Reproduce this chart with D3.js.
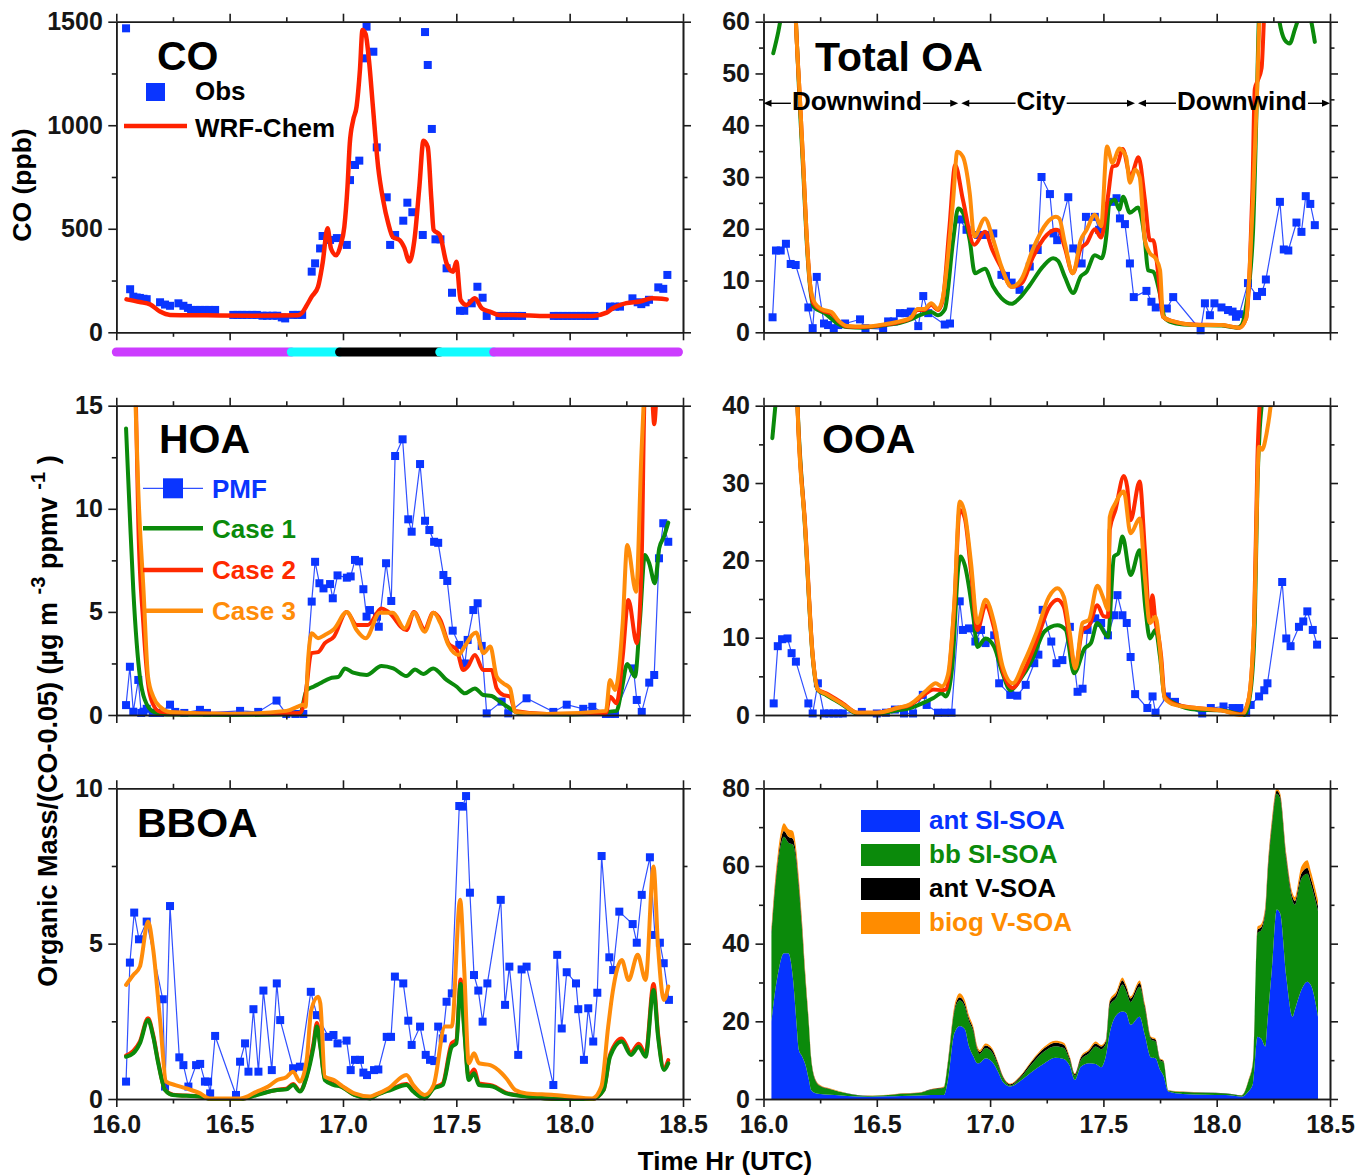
<!DOCTYPE html>
<html>
<head>
<meta charset="utf-8">
<title>CO and organic aerosol along the flight track</title>
<script src="https://cdn.jsdelivr.net/npm/d3@7/dist/d3.min.js"></script>
<style>
  html, body { margin: 0; padding: 0; background: #fff; }
  svg text { font-family: "Liberation Sans", Arial, Helvetica, sans-serif; font-weight: bold; }
</style>
</head>
<body>
<svg id="chart" width="1357" height="1176"></svg>
<script>
// ---------------- data ----------------
const timeTicks = [16.0, 16.5, 17.0, 17.5, 18.0, 18.5];
const timeMinorTicks = [16.25, 16.75, 17.25, 17.75, 18.25];

const coTicks = [0, 500, 1000, 1500], coMinor = [250, 750, 1250];
const totTicks = [0, 10, 20, 30, 40, 50, 60], totMinor = [5, 15, 25, 35, 45, 55];
const hoaTicks = [0, 5, 10, 15], hoaMinor = [2.5, 7.5, 12.5];
const ooaTicks = [0, 10, 20, 30, 40], ooaMinor = [5, 15, 25, 35];
const bboaTicks = [0, 5, 10], bboaMinor = [2.5, 7.5];
const soaTicks = [0, 20, 40, 60, 80], soaMinor = [10, 30, 50, 70];

// flight legs shown under the CO panel
const legEdges = [16.0, 16.772, 16.985, 17.427, 17.665, 18.48];
const legTypes = ['downwind', 'transition', 'city', 'transition', 'downwind'];

// regions marked in the Total OA panel
const regionEdges = [16.0, 16.866, 17.646, 18.5];
const regionNames = ['Downwind', 'City', 'Downwind'];

// CO (ppb): aircraft observations and WRF-Chem
const coObs = [[16.043,1468],[16.061,208],[16.075,172],[16.09,168],[16.104,166],[16.12,162],[16.134,160],[16.193,145],[16.215,134],[16.237,128],[16.274,140],[16.296,128],[16.316,118],[16.33,108],[16.35,108],[16.37,108],[16.39,108],[16.41,108],[16.436,108],[16.516,84],[16.535,84],[16.555,84],[16.575,84],[16.6,84],[16.62,84],[16.645,80],[16.665,80],[16.69,80],[16.71,80],[16.73,72],[16.745,67],[16.78,84],[16.8,84],[16.82,84],[16.862,293],[16.877,333],[16.899,405],[16.91,465],[16.943,446],[16.973,455],[17.017,422],[17.031,735],[17.053,808],[17.072,829],[17.097,1323],[17.104,1476],[17.134,1355],[17.149,893],[17.193,652],[17.208,422],[17.23,470],[17.266,539],[17.284,626],[17.306,580],[17.352,470],[17.362,1450],[17.374,1291],[17.392,982],[17.408,449],[17.43,449],[17.457,309],[17.481,191],[17.516,104],[17.535,104],[17.568,140],[17.593,220],[17.616,167],[17.634,79],[17.69,79],[17.71,79],[17.73,79],[17.75,79],[17.77,79],[17.79,79],[17.93,79],[17.95,79],[17.97,79],[17.99,79],[18.01,79],[18.03,79],[18.05,79],[18.07,79],[18.09,79],[18.11,79],[18.178,124],[18.2,124],[18.222,124],[18.277,164],[18.3,145],[18.316,136],[18.335,145],[18.35,157],[18.391,217],[18.413,210],[18.431,277]];
const coModel = [[16.045,159],[16.104,146],[16.149,135],[16.193,100],[16.237,84],[16.4,82],[16.6,80],[16.8,82],[16.818,92],[16.84,130],[16.862,172],[16.89,220],[16.91,333],[16.932,502],[16.947,405],[16.97,372],[16.99,422],[17.006,510],[17.02,703],[17.03,912],[17.045,1025],[17.06,1090],[17.075,1270],[17.086,1460],[17.1,1440],[17.115,1310],[17.132,1090],[17.155,800],[17.177,640],[17.2,525],[17.22,460],[17.25,445],[17.27,410],[17.293,342],[17.315,445],[17.337,703],[17.355,925],[17.374,895],[17.39,640],[17.4,495],[17.427,470],[17.457,333],[17.486,293],[17.5,341],[17.519,156],[17.545,132],[17.582,164],[17.612,116],[17.648,100],[17.69,84],[17.75,84],[17.9,79],[18.1,79],[18.163,95],[18.19,116],[18.25,141],[18.31,149],[18.362,164],[18.428,159]];

// Total OA
const totPMF = [[16.04,2.9],[16.055,15.8],[16.076,15.8],[16.099,17.1],[16.12,13.2],[16.142,13.0],[16.198,4.8],[16.217,0.8],[16.235,10.7],[16.267,1.7],[16.285,1.4],[16.31,0.8],[16.33,1.4],[16.36,1.7],[16.426,2.5],[16.45,0.8],[16.528,0.6],[16.55,2.1],[16.575,2.1],[16.602,3.7],[16.625,3.7],[16.65,4.0],[16.683,1.2],[16.705,7.0],[16.727,3.7],[16.8,1.5],[16.823,1.7],[16.867,21.8],[16.896,19.8],[16.947,18.8],[16.981,18.8],[17.014,19.1],[17.05,11.1],[17.07,10.9],[17.095,9.6],[17.13,8.2],[17.175,12.7],[17.19,16.2],[17.21,15.9],[17.227,30.0],[17.264,26.7],[17.28,19.1],[17.296,17.8],[17.345,26.1],[17.367,16.2],[17.404,13.3],[17.423,22.3],[17.462,22.3],[17.481,19.8],[17.536,25.2],[17.558,25.9],[17.573,22.0],[17.595,20.9],[17.617,13.3],[17.634,6.8],[17.69,8.0],[17.712,5.9],[17.731,4.8],[17.78,4.6],[17.808,6.8],[17.929,0.4],[17.948,5.6],[17.97,3.3],[17.99,5.6],[18.021,4.8],[18.05,4.3],[18.07,4.0],[18.085,3.0],[18.1,3.5],[18.138,9.5],[18.178,7.0],[18.2,7.8],[18.217,10.2],[18.279,25.2],[18.296,16.0],[18.316,15.8],[18.352,21.2],[18.374,19.4],[18.393,26.3],[18.413,24.8],[18.433,20.7]];
const totCase1 = [[16.043,53.9],[16.065,58],[16.09,64],[16.12,70],[16.14,62],[16.161,43],[16.176,30.5],[16.19,18],[16.205,9],[16.222,4.9],[16.27,3.7],[16.32,1.9],[16.368,1.0],[16.44,0.9],[16.54,1.4],[16.6,1.8],[16.65,2.5],[16.69,3.3],[16.74,3.9],[16.77,3.3],[16.8,4.4],[16.837,17.8],[16.859,23.9],[16.88,23.1],[16.91,17.8],[16.933,11.4],[16.977,12.3],[17.014,8.8],[17.05,6.6],[17.095,5.5],[17.13,6.6],[17.175,9.1],[17.233,12.7],[17.278,14.3],[17.3,13.8],[17.33,10.7],[17.367,7.6],[17.4,10.8],[17.426,11.7],[17.462,14.9],[17.492,14.3],[17.514,19.1],[17.525,24.6],[17.55,25.6],[17.57,23.7],[17.587,26.2],[17.617,23.1],[17.653,24.1],[17.683,17.8],[17.697,12.0],[17.72,11.7],[17.749,7.5],[17.771,2.7],[17.82,1.7],[17.9,1.4],[18.02,1.3],[18.09,0.9],[18.11,1.4],[18.13,5.1],[18.16,19.1],[18.177,44.9],[18.19,65],[18.24,75],[18.275,60.5],[18.3,56.5],[18.322,55.8],[18.345,58.5],[18.36,60.5],[18.39,63],[18.415,60.5],[18.433,56.1]];
const totCase2 = [[16.043,85],[16.1,95],[16.13,75],[16.145,58],[16.161,44.9],[16.176,32],[16.19,19.1],[16.205,9.5],[16.22,5.6],[16.26,4.2],[16.3,3.6],[16.33,2.2],[16.37,1.1],[16.44,1.0],[16.54,1.5],[16.6,2.0],[16.65,2.7],[16.68,4.3],[16.71,4.3],[16.74,5.3],[16.77,4.3],[16.79,6.0],[16.82,20],[16.846,32.3],[16.88,25.6],[16.93,16.9],[16.977,19.4],[17.01,15.9],[17.05,12.4],[17.095,8.8],[17.14,9.5],[17.19,14.6],[17.25,18.8],[17.29,19.8],[17.305,19.6],[17.33,16.3],[17.365,11.4],[17.4,16.2],[17.426,17.2],[17.462,19.9],[17.49,18.3],[17.52,26.2],[17.54,32.0],[17.56,32.3],[17.585,35.4],[17.62,30.1],[17.655,33.8],[17.683,25.6],[17.705,17.8],[17.72,17.8],[17.74,12.0],[17.763,3.0],[17.8,2.2],[17.9,1.5],[18.02,1.4],[18.1,0.9],[18.13,2.7],[18.146,12.7],[18.158,28],[18.168,47],[18.182,48.7],[18.198,51],[18.21,62],[18.3,110],[18.435,100]];
const totCase3 = [[16.043,90],[16.1,100],[16.13,76],[16.145,58],[16.161,44.9],[16.176,32],[16.19,19.1],[16.205,9.5],[16.227,5.6],[16.26,4.4],[16.3,3.9],[16.33,2.3],[16.37,1.2],[16.44,1.1],[16.54,1.6],[16.6,2.1],[16.65,2.8],[16.68,4.5],[16.71,4.5],[16.74,5.6],[16.77,4.5],[16.79,6.4],[16.837,25.6],[16.855,34.9],[16.88,33.9],[16.91,26.9],[16.93,18.5],[16.977,22.0],[17.014,17.8],[17.05,12.7],[17.095,8.8],[17.14,10.4],[17.19,16.2],[17.25,21.1],[17.29,22.3],[17.305,22],[17.33,17.2],[17.365,11.4],[17.4,17.8],[17.426,19.8],[17.462,22.7],[17.49,20.5],[17.516,35.9],[17.54,32.7],[17.57,35.5],[17.6,33.9],[17.617,28.9],[17.64,31.4],[17.66,30],[17.683,17.8],[17.705,15.3],[17.73,14.3],[17.75,12.0],[17.763,3.0],[17.8,2.2],[17.92,1.4],[18.02,1.4],[18.1,0.9],[18.13,2.7],[18.146,12.7],[18.16,25.6],[18.177,44.9],[18.19,62],[18.3,110],[18.435,100]];

// HOA
const hoaPMF = [[16.043,0.48],[16.06,2.34],[16.075,0.16],[16.097,1.7],[16.11,0.1],[16.12,0.16],[16.134,0.3],[16.16,0.1],[16.193,0.1],[16.237,0.5],[16.26,0.15],[16.3,0.1],[16.369,0.25],[16.4,0.1],[16.546,0.2],[16.626,0.15],[16.707,0.7],[16.75,0.05],[16.79,0.05],[16.825,0.05],[16.862,5.5],[16.877,7.43],[16.896,6.39],[16.914,6.14],[16.943,6.35],[16.955,5.66],[16.976,6.77],[17.017,6.66],[17.034,6.72],[17.053,7.52],[17.071,7.45],[17.09,6.1],[17.104,4.77],[17.119,5.09],[17.15,4.77],[17.158,4.28],[17.19,7.36],[17.213,5.53],[17.23,12.56],[17.263,13.37],[17.288,9.49],[17.303,8.89],[17.34,12.17],[17.362,9.42],[17.381,8.97],[17.402,8.4],[17.42,8.35],[17.443,6.79],[17.46,6.5],[17.484,4.09],[17.513,3.4],[17.538,2.5],[17.55,3.64],[17.575,5.09],[17.594,5.42],[17.612,3.35],[17.634,0.08],[17.7,0.65],[17.729,0.08],[17.81,0.81],[17.928,0.15],[17.987,0.5],[18.06,0.3],[18.1,0.4],[18.16,0.05],[18.18,0.05],[18.2,0.05],[18.281,2.26],[18.296,0.73],[18.318,0.15],[18.351,1.57],[18.373,1.94],[18.394,7.6],[18.413,9.3],[18.435,8.4]];
const hoaCase1 = [[16.043,13.9],[16.06,9.6],[16.075,6.06],[16.09,3.48],[16.104,1.86],[16.126,0.73],[16.163,0.16],[16.22,0.02],[16.5,0.0],[16.81,0.05],[16.84,1.21],[16.87,1.37],[16.899,1.54],[16.943,1.78],[16.98,1.85],[17.009,2.26],[17.045,2.05],[17.104,1.94],[17.17,2.38],[17.222,2.26],[17.28,1.89],[17.318,2.21],[17.354,1.99],[17.398,2.26],[17.457,1.7],[17.502,1.37],[17.538,1.05],[17.582,1.29],[17.619,0.97],[17.656,0.92],[17.692,0.65],[17.737,0.32],[17.78,0.08],[18.0,0.02],[18.207,0.2],[18.229,1.2],[18.254,2.47],[18.288,1.86],[18.31,4.6],[18.332,7.76],[18.351,7.36],[18.376,6.39],[18.395,8.08],[18.416,8.65],[18.435,9.33]];
const hoaCase2 = [[16.05,24],[16.085,16],[16.097,9.3],[16.119,4.45],[16.14,1.54],[16.16,0.57],[16.193,0.16],[16.3,0.1],[16.6,0.05],[16.81,0.1],[16.835,1.0],[16.86,3.0],[16.89,3.05],[16.92,3.48],[16.96,3.8],[17.016,5.0],[17.06,4.37],[17.11,4.37],[17.17,5.17],[17.2,5.0],[17.28,4.12],[17.313,5.0],[17.36,4.16],[17.398,4.96],[17.43,4.6],[17.465,3.48],[17.502,3.15],[17.531,2.18],[17.55,2.34],[17.582,2.91],[17.619,2.18],[17.656,2.18],[17.678,1.29],[17.707,0.97],[17.737,0.89],[17.76,0.2],[17.9,0.05],[18.16,0.1],[18.178,0.89],[18.207,0.57],[18.234,2.83],[18.259,5.58],[18.296,3.48],[18.318,7.68],[18.332,16],[18.355,17],[18.373,14.1],[18.39,17],[18.435,22]];
const hoaCase3 = [[16.05,26],[16.085,15],[16.097,10.9],[16.12,6.06],[16.14,1.86],[16.163,0.89],[16.193,0.4],[16.237,0.15],[16.5,0.05],[16.75,0.2],[16.8,0.4],[16.826,0.5],[16.835,0.4],[16.845,2.5],[16.862,3.96],[16.89,3.72],[16.92,3.88],[16.96,4.16],[17.017,5.0],[17.06,4.12],[17.1,3.72],[17.163,4.96],[17.22,4.96],[17.272,4.2],[17.313,4.96],[17.36,4.04],[17.4,4.96],[17.43,4.45],[17.465,3.4],[17.51,2.91],[17.535,3.3],[17.587,4.0],[17.62,3.0],[17.65,3.32],[17.678,1.86],[17.707,1.54],[17.737,1.29],[17.76,0.15],[17.9,0.05],[18.16,0.2],[18.178,1.7],[18.2,1.21],[18.234,4.45],[18.254,8.24],[18.293,5.98],[18.316,12.5],[18.33,16],[18.38,22],[18.435,24]];

// OOA
const ooaPMF = [[16.045,1.5],[16.063,8.9],[16.082,9.8],[16.106,9.9],[16.124,8.0],[16.143,6.9],[16.198,1.5],[16.217,0.2],[16.24,4.1],[16.267,0.2],[16.29,0.2],[16.31,0.2],[16.33,0.2],[16.35,0.2],[16.434,0.4],[16.5,0.2],[16.54,0.3],[16.58,0.7],[16.62,0.2],[16.66,0.2],[16.703,2.6],[16.72,1.3],[16.77,0.3],[16.8,0.3],[16.83,0.3],[16.866,14.7],[16.88,11.0],[16.907,11.2],[16.935,9.5],[16.96,11.0],[16.98,9.3],[17.018,10.3],[17.04,4.1],[17.089,2.6],[17.12,2.5],[17.157,3.9],[17.195,6.7],[17.213,7.8],[17.232,13.6],[17.27,9.5],[17.293,6.7],[17.319,7.1],[17.352,11.4],[17.386,3.0],[17.408,3.4],[17.43,11.0],[17.464,12.5],[17.49,11.9],[17.52,10.3],[17.547,12.9],[17.562,15.5],[17.584,12.9],[17.603,11.9],[17.62,7.5],[17.64,2.7],[17.694,0.9],[17.717,2.4],[17.73,0.3],[17.78,2.4],[17.816,1.7],[17.936,0.2],[17.974,0.9],[18.03,1.1],[18.07,0.9],[18.1,0.9],[18.13,0.3],[18.15,1.3],[18.187,2.4],[18.21,3.2],[18.224,4.1],[18.289,17.2],[18.307,9.9],[18.326,8.9],[18.363,11.4],[18.382,12.1],[18.4,13.4],[18.424,11.0],[18.443,9.1]];
const ooaCase1 = [[16.039,35.8],[16.054,40.5],[16.1,55],[16.14,48],[16.15,40],[16.184,23.9],[16.217,7.5],[16.24,3.2],[16.276,2.6],[16.35,1.3],[16.415,0.2],[16.5,0.2],[16.59,0.6],[16.647,0.9],[16.7,1.5],[16.75,2.2],[16.786,2.8],[16.805,2.4],[16.833,6.3],[16.86,19.2],[16.87,20.5],[16.888,19.4],[16.926,12.7],[16.944,8.8],[16.98,9.9],[17.018,8.8],[17.055,5.4],[17.09,3.2],[17.13,4.5],[17.185,7.1],[17.24,10.8],[17.297,11.6],[17.334,11.0],[17.37,5.4],[17.417,8.6],[17.445,9.3],[17.473,11.9],[17.52,10.1],[17.547,20.5],[17.566,20.9],[17.584,23.1],[17.62,18.1],[17.66,21.3],[17.686,13.6],[17.705,9.9],[17.73,11.0],[17.75,7.5],[17.77,2.4],[17.816,1.5],[17.908,0.7],[18.02,0.6],[18.09,0.2],[18.122,0.0],[18.15,3.2],[18.168,11.9],[18.18,30],[18.19,37],[18.2,40.5],[18.3,65],[18.443,55]];
const ooaCase2 = [[16.043,60],[16.1,70],[16.14,50],[16.15,40],[16.184,24.5],[16.217,7.8],[16.24,3.3],[16.276,2.8],[16.35,1.5],[16.415,0.3],[16.5,0.3],[16.59,0.9],[16.647,1.3],[16.7,2.4],[16.75,3.3],[16.787,3.2],[16.805,3.3],[16.842,14],[16.866,26.5],[16.888,25.5],[16.916,18.5],[16.944,11.0],[16.98,14.2],[17.018,11.2],[17.055,5.8],[17.1,3.5],[17.148,5.6],[17.204,9.5],[17.26,13.9],[17.297,14.9],[17.325,14],[17.352,9.5],[17.376,6.2],[17.408,11.0],[17.436,11.5],[17.473,14.2],[17.5,12.8],[17.52,12.7],[17.528,24],[17.553,26.5],[17.59,30.9],[17.605,29.5],[17.62,25.2],[17.66,30.2],[17.683,21.3],[17.705,12],[17.716,15.5],[17.73,12],[17.745,9.9],[17.755,7.5],[17.77,2.4],[17.816,1.4],[17.91,0.9],[18.02,0.6],[18.11,0.1],[18.14,1.9],[18.165,11.9],[18.18,33.4],[18.19,40.5],[18.3,75],[18.443,62]];
const ooaCase3 = [[16.043,65],[16.1,75],[16.14,52],[16.15,40],[16.184,24.2],[16.217,7.7],[16.24,3.3],[16.276,2.7],[16.35,1.4],[16.415,0.3],[16.5,0.3],[16.59,0.9],[16.647,1.4],[16.72,3.2],[16.76,4.1],[16.787,3.7],[16.814,5.2],[16.842,14.4],[16.866,27.6],[16.888,26.1],[16.916,19.6],[16.944,11.9],[16.98,14.9],[17.018,11.9],[17.055,6.3],[17.1,4.1],[17.148,6.7],[17.204,10.6],[17.26,15.3],[17.297,16.4],[17.325,15.3],[17.352,10.6],[17.376,6.0],[17.408,11.9],[17.436,12.3],[17.473,16.7],[17.5,15.1],[17.52,13.6],[17.528,25.6],[17.553,27.4],[17.59,28.9],[17.62,23.5],[17.66,25.4],[17.683,17.9],[17.705,11.9],[17.73,12.7],[17.75,8.4],[17.77,2.2],[17.816,1.3],[17.91,0.9],[18.02,0.6],[18.11,0.0],[18.14,1.9],[18.165,11.9],[18.187,34.7],[18.2,34.3],[18.22,36.4],[18.24,40.5],[18.3,70],[18.443,60]];

// BBOA
const bboaPMF = [[16.043,0.56],[16.06,4.39],[16.079,6.0],[16.1,5.14],[16.134,5.71],[16.205,3.21],[16.215,0.4],[16.237,6.21],[16.278,1.34],[16.296,1.09],[16.318,0.4],[16.352,1.09],[16.37,1.13],[16.391,0.56],[16.405,0.56],[16.414,0.18],[16.436,2.03],[16.528,0.13],[16.546,1.2],[16.568,1.79],[16.583,0.88],[16.605,2.89],[16.627,0.88],[16.649,3.49],[16.686,0.93],[16.708,3.72],[16.723,2.54],[16.78,0.99],[16.81,1.04],[16.858,3.45],[16.885,2.7],[16.936,2.0],[16.958,2.06],[16.976,1.79],[17.016,1.88],[17.034,0.93],[17.053,1.26],[17.075,1.26],[17.09,0.85],[17.106,0.77],[17.137,0.93],[17.156,0.95],[17.193,2.0],[17.212,2.0],[17.229,3.94],[17.266,3.72],[17.288,2.52],[17.303,1.74],[17.34,2.33],[17.365,1.42],[17.384,1.26],[17.403,1.22],[17.42,2.33],[17.44,1.95],[17.457,3.13],[17.48,3.4],[17.513,9.43],[17.528,9.41],[17.543,9.75],[17.56,6.64],[17.578,3.99],[17.597,3.49],[17.616,2.49],[17.637,3.72],[17.696,6.41],[17.715,3.03],[17.734,4.26],[17.773,1.42],[17.788,4.17],[17.81,4.26],[17.928,0.45],[17.945,4.64],[17.965,2.27],[17.987,4.08],[18.028,3.72],[18.038,2.89],[18.063,1.26],[18.082,2.92],[18.104,1.85],[18.122,3.42],[18.141,7.82],[18.175,4.56],[18.192,4.15],[18.219,6.03],[18.278,5.63],[18.296,5.03],[18.318,6.57],[18.354,7.78],[18.376,5.28],[18.398,5.03],[18.415,4.37],[18.438,3.19]];
const bboaCase1 = [[16.043,1.36],[16.075,1.47],[16.104,1.79],[16.14,2.54],[16.163,2.0],[16.185,1.15],[16.215,0.29],[16.25,0.13],[16.37,0.08],[16.42,0.0],[16.55,0.0],[16.62,0.13],[16.71,0.29],[16.75,0.31],[16.78,0.45],[16.81,0.24],[16.84,0.72],[16.87,1.68],[16.885,2.33],[16.9,1.68],[16.92,0.61],[16.96,0.45],[16.99,0.4],[17.05,0.13],[17.12,0.02],[17.15,0.13],[17.21,0.29],[17.28,0.45],[17.31,0.24],[17.36,0.02],[17.4,0.34],[17.44,0.45],[17.48,1.68],[17.5,1.79],[17.519,3.7],[17.535,2.2],[17.555,0.61],[17.578,0.83],[17.6,0.45],[17.66,0.4],[17.72,0.18],[17.81,0.08],[17.95,0.0],[18.1,0.0],[18.15,0.29],[18.178,1.36],[18.23,1.85],[18.27,1.42],[18.305,1.68],[18.335,1.36],[18.37,3.51],[18.39,2.0],[18.416,0.93],[18.435,1.15]];
const bboaCase2 = [[16.043,1.4],[16.075,1.55],[16.104,1.85],[16.14,2.6],[16.163,2.05],[16.185,1.2],[16.215,0.3],[16.25,0.14],[16.37,0.08],[16.42,0.0],[16.55,0.0],[16.62,0.14],[16.71,0.3],[16.75,0.33],[16.78,0.48],[16.81,0.26],[16.84,0.76],[16.87,1.8],[16.885,2.45],[16.9,1.75],[16.92,0.65],[16.96,0.48],[16.99,0.42],[17.05,0.14],[17.12,0.03],[17.15,0.14],[17.21,0.31],[17.28,0.48],[17.31,0.26],[17.36,0.03],[17.4,0.36],[17.44,0.5],[17.48,1.8],[17.5,1.9],[17.519,3.85],[17.535,2.3],[17.555,0.7],[17.578,0.95],[17.6,0.5],[17.66,0.43],[17.72,0.2],[17.81,0.09],[17.95,0.0],[18.1,0.0],[18.15,0.3],[18.178,1.42],[18.23,1.95],[18.27,1.5],[18.305,1.78],[18.335,1.45],[18.37,3.7],[18.39,2.1],[18.416,1.0],[18.435,1.25]];
const bboaCase3 = [[16.043,3.67],[16.075,3.99],[16.104,4.26],[16.14,5.71],[16.163,4.8],[16.193,2.54],[16.22,0.56],[16.26,0.45],[16.31,0.34],[16.37,0.18],[16.41,0.02],[16.55,0.02],[16.62,0.24],[16.67,0.4],[16.71,0.61],[16.75,0.7],[16.78,0.88],[16.81,0.56],[16.84,1.26],[16.86,2.86],[16.89,3.29],[16.9,3.08],[16.92,0.72],[16.96,0.61],[17.0,0.4],[17.05,0.18],[17.12,0.08],[17.14,0.13],[17.2,0.34],[17.28,0.77],[17.31,0.45],[17.36,0.13],[17.4,0.45],[17.45,2.33],[17.48,2.33],[17.517,6.41],[17.535,4.15],[17.555,1.15],[17.578,1.47],[17.6,1.15],[17.65,1.09],[17.7,0.83],[17.72,0.67],[17.76,0.29],[17.81,0.18],[17.93,0.13],[18.0,0.08],[18.1,0.02],[18.14,0.4],[18.17,2.33],[18.19,3.45],[18.23,4.47],[18.26,3.83],[18.3,4.64],[18.335,3.83],[18.37,7.48],[18.39,4.9],[18.416,3.19],[18.435,3.62]];

// SOA components (stacked)
const soaTimes = [16.035,16.045,16.063,16.09,16.11,16.13,16.145,16.156,16.17,16.184,16.2,16.21,16.23,16.25,16.295,16.37,16.46,16.55,16.61,16.684,16.74,16.796,16.814,16.842,16.866,16.888,16.907,16.926,16.944,16.954,16.98,17.01,17.035,17.055,17.09,17.13,17.185,17.24,17.287,17.325,17.352,17.374,17.4,17.436,17.466,17.49,17.51,17.528,17.556,17.584,17.6,17.62,17.66,17.683,17.71,17.73,17.75,17.765,17.787,17.85,17.95,18.04,18.11,18.14,18.16,18.18,18.196,18.215,18.224,18.243,18.265,18.28,18.307,18.335,18.345,18.363,18.373,18.4,18.418,18.447];
const antSISOA = [20,25,32,37.5,37.5,31,20,12.6,11,9, 5,2.3,1.5,1.3,1.1,0.8,0.6,0.7,0.8,0.9, 1.0,1.0,4.9,16.9,18.8,18.0,13.5,11,9.2,9.3, 10.5,9.5,7,4.5,3.2,4.5,7.0,9.2,10.6,10.3, 8.5,4.9,8.3,9.2,9.0,8.2,10.9,17,21.5,22.5, 22.2,19.1,21.2,16.5,10.7,10.5,7.5,6,1.9,1.3, 1.1,1.0,0.6,1.9,4.0,16,15.6,13.5,20,33.2, 48.8,47.8,31.5,21.2,23,26.4,28,30.2,29,21.2];
const bbSISOA = [22.2,24.8,28.3,30.0,28.5,34.5,40.8,41.5,32.6,22.2, 13.9,8.0,3.1,2.0,1.4,0.6,0.2,0.3,0.55,0.65, 1.4,1.9,4.4,5.5,6.6,5.8,6.5,6.4,3.3,2.3, 2.6,2.4,1.7,1.1,0.3,0.7,2.1,3.1,3.0,2.8, 1.4,1.1,1.7,2.5,4.5,4.6,3.2,7.1,4.5,7.0, 5.7,5.9,7.7,6.8,4.6,4.3,2.5,3.5,0.2,0.5, 0.5,0.4,0.3,2.7,5.3,26.8,27.8,34.7,37.0,36.6, 29.8,29.5,30.0,29.8,27.0,27.9,28.7,27.8,25.9,27.2];
const antVSOA = [0.8,1.0,1.2,1.5,1.5,1.5,1.4,1.3,1.1,0.8, 0.5,0.3,0.2,0.1,0.1,0.05,0.05,0.05,0.05,0.05, 0.1,0.1,0.3,0.6,0.8,0.8,0.7,0.6,0.5,0.5, 0.7,0.7,0.5,0.4,0.3,0.4,0.6,0.8,0.9,0.9, 0.6,0.4,0.6,0.7,0.8,0.7,0.7,0.9,1.0,1.1, 1.0,0.9,1.0,0.8,0.5,0.5,0.3,0.3,0.1,0.05, 0.05,0.05,0.05,0.1,0.3,0.8,0.8,0.9,1.0,1.0, 0.8,0.8,1.0,1.0,1.0,1.2,1.3,1.5,1.4,1.3];
const biogVSOA = [1.0,1.2,1.5,2.0,2.0,2.0,1.8,1.6,1.3,1.0, 0.6,0.4,0.2,0.2,0.1,0.05,0.05,0.05,0.1,0.1, 0.1,0.2,0.4,0.8,1.0,0.9,0.8,0.6,0.5,0.5, 0.5,0.4,0.3,0.2,0.2,0.2,0.3,0.4,0.5,0.5, 0.4,0.2,0.3,0.4,0.5,0.4,0.4,0.5,0.6,0.7, 0.6,0.5,0.6,0.5,0.3,0.3,0.2,0.2,0.1,0.05, 0.05,0.05,0.05,0.2,0.4,0.8,0.8,0.9,1.0,1.0, 0.6,0.6,0.8,1.0,1.0,1.5,1.8,2.0,1.8,1.5];

const coLegend = ['Obs', 'WRF-Chem'];
const caseLegend = ['PMF', 'Case 1', 'Case 2', 'Case 3'];
const soaKeys = ['ant SI-SOA', 'bb SI-SOA', 'ant V-SOA', 'biog V-SOA'];

// ---------------- drawing ----------------
const AX = '#1c1c1c';
const BLUE = '#0a35ff', PMFLINE = '#3050ff', GREEN = '#0b8a0b', RED = '#ff2a00', ORANGE = '#ff8c0a';
const legColor = { downwind: '#cc3cff', transition: '#12fbff', city: '#000000' };
const caseColors = [BLUE, GREEN, RED, ORANGE];
const soaColors = ['#0633ff', '#0b8a0b', '#000000', '#ff8c00'];

const colX = [[116.3, 683], [763.5, 1330]];
const rowY = [[21.7, 332.3], [405.7, 715], [788.3, 1099]];
const svg = d3.select('#chart');
const defs = svg.append('defs');

function makePanel(key, c, r, yMax, yTicks, yMinor, showX) {
  const [xl, xr] = colX[c], [yt, yb] = rowY[r];
  const x = d3.scaleLinear().domain([16, 18.5]).range([xl, xr]);
  const y = d3.scaleLinear().domain([0, yMax]).range([yb, yt]);
  const g = svg.append('g').attr('class', 'panel-' + key);
  defs.append('clipPath').attr('id', 'clip-' + key).append('rect')
    .attr('x', xl - 5).attr('y', yt).attr('width', xr - xl + 10).attr('height', yb - yt + 6);
  const plot = g.append('g').attr('clip-path', `url(#clip-${key})`);
  const frame = g.append('g');
  const blank = () => '';
  const style = sel => {
    sel.attr('font-family', null).attr('font-size', 25);
    sel.selectAll('.domain').attr('stroke', AX).attr('stroke-width', 1.6);
    sel.selectAll('.tick line').attr('stroke', AX).attr('stroke-width', 1.6);
    sel.selectAll('.tick text').attr('fill', '#161616');
  };
  const add = (gen, tr, vals, size, pad, fmt) => frame.append('g').attr('transform', tr)
    .call(gen.tickValues(vals).tickSizeInner(size).tickSizeOuter(0).tickPadding(pad).tickFormat(fmt))
    .call(style);
  add(d3.axisBottom(x), `translate(0,${yb})`, timeTicks, 8, 8, showX ? d3.format('.1f') : blank);
  add(d3.axisBottom(x), `translate(0,${yb})`, timeMinorTicks, 4.5, 0, blank);
  add(d3.axisTop(x), `translate(0,${yt})`, timeTicks, 8, 0, blank);
  add(d3.axisTop(x), `translate(0,${yt})`, timeMinorTicks, 4.5, 0, blank);
  add(d3.axisLeft(y), `translate(${xl},0)`, yTicks, 8, 5.5, d3.format('d'));
  add(d3.axisLeft(y), `translate(${xl},0)`, yMinor, 4.5, 0, blank);
  add(d3.axisRight(y), `translate(${xr},0)`, yTicks, 8, 0, blank);
  add(d3.axisRight(y), `translate(${xr},0)`, yMinor, 4.5, 0, blank);
  return { x, y, plot, frame, g };
}

function modelLine(p, data, color, width) {
  const line = d3.line().x(d => p.x(d[0])).y(d => p.y(d[1])).curve(d3.curveMonotoneX);
  p.plot.append('path').datum(data)
    .attr('fill', 'none').attr('stroke', color).attr('stroke-width', width || 4)
    .attr('stroke-linejoin', 'round').attr('stroke-linecap', 'round')
    .attr('d', line);
}

function observations(p, data, joined) {
  if (joined) {
    const line = d3.line().x(d => p.x(d[0])).y(d => p.y(d[1]));
    p.plot.append('path').datum(data)
      .attr('fill', 'none').attr('stroke', PMFLINE).attr('stroke-width', 1.2).attr('d', line);
  }
  p.plot.append('g').selectAll('rect').data(data).join('rect')
    .attr('x', d => p.x(d[0]) - 4).attr('y', d => p.y(d[1]) - 4)
    .attr('width', 8).attr('height', 8).attr('fill', BLUE);
}

function title(p, text, x, y) {
  p.frame.append('text').attr('x', x).attr('y', y).style('font-size', '41px').attr('fill', '#000').text(text);
}

// ---- CO ----
const pCO = makePanel('co', 0, 0, 1500, coTicks, coMinor, false);
observations(pCO, coObs, false);
modelLine(pCO, coModel, '#ff2200', 4.5);
title(pCO, 'CO', 157, 70);
pCO.frame.append('rect').attr('x', 146).attr('y', 83).attr('width', 19).attr('height', 18).attr('fill', BLUE);
pCO.frame.append('text').attr('x', 195).attr('y', 100).style('font-size', '26px').text(coLegend[0]);
pCO.frame.append('line').attr('x1', 124).attr('x2', 187).attr('y1', 126).attr('y2', 126)
  .attr('stroke', '#ff2200').attr('stroke-width', 4.5);
pCO.frame.append('text').attr('x', 195).attr('y', 137).style('font-size', '26px').text(coLegend[1]);

// flight-leg bar below the CO panel
legTypes.forEach((type, i) => {
  svg.append('line')
    .attr('x1', pCO.x(legEdges[i])).attr('x2', pCO.x(legEdges[i + 1]))
    .attr('y1', 352).attr('y2', 352)
    .attr('stroke', legColor[type]).attr('stroke-width', 9).attr('stroke-linecap', 'round');
});

// ---- Total OA ----
const pTot = makePanel('tot', 1, 0, 60, totTicks, totMinor, false);
observations(pTot, totPMF, true);
modelLine(pTot, totCase1, GREEN);
modelLine(pTot, totCase2, RED);
modelLine(pTot, totCase3, ORANGE);
title(pTot, 'Total OA', 815, 70.5);
{
  const yA = 103.3;
  const labelNudge = [-4, -7, 8];   // small offsets of each label from its segment centre
  const ann = pTot.frame.append('g');
  regionNames.forEach((name, i) => {
    const xa = pTot.x(regionEdges[i]) + (i > 0 ? 1.5 : 0);
    const xb = pTot.x(regionEdges[i + 1]) - (i < regionNames.length - 1 ? 1.5 : 0);
    const cx = (xa + xb) / 2 + labelNudge[i];
    const t = ann.append('text').attr('x', cx).attr('y', 110).attr('text-anchor', 'middle')
      .style('font-size', '26px').text(name);
    const w = t.node().getComputedTextLength();
    ann.append('line').attr('x1', xa + 6).attr('x2', cx - w / 2 - 1).attr('y1', yA).attr('y2', yA)
      .attr('stroke', '#000').attr('stroke-width', 1.4);
    ann.append('line').attr('x1', cx + w / 2 + 1).attr('x2', xb - 6).attr('y1', yA).attr('y2', yA)
      .attr('stroke', '#000').attr('stroke-width', 1.4);
    ann.append('path').attr('d', `M${xa},${yA} L${xa + 8},${yA - 3.5} L${xa + 8},${yA + 3.5} Z`).attr('fill', '#000');
    ann.append('path').attr('d', `M${xb},${yA} L${xb - 8},${yA - 3.5} L${xb - 8},${yA + 3.5} Z`).attr('fill', '#000');
  });
}

// ---- HOA ----
const pHOA = makePanel('hoa', 0, 1, 15, hoaTicks, hoaMinor, false);
observations(pHOA, hoaPMF, true);
modelLine(pHOA, hoaCase1, GREEN);
modelLine(pHOA, hoaCase2, RED);
modelLine(pHOA, hoaCase3, ORANGE);
title(pHOA, 'HOA', 159, 453.3);
{
  const lineY = [488.3, 528.3, 570, 610.7];
  caseLegend.forEach((name, i) => {
    pHOA.frame.append('line').attr('x1', 143).attr('x2', 203).attr('y1', lineY[i]).attr('y2', lineY[i])
      .attr('stroke', i === 0 ? PMFLINE : caseColors[i]).attr('stroke-width', i === 0 ? 1.3 : 4.5);
    if (i === 0) pHOA.frame.append('rect').attr('x', 163).attr('y', lineY[i] - 10).attr('width', 20).attr('height', 20).attr('fill', BLUE);
    pHOA.frame.append('text').attr('x', 212).attr('y', lineY[i] + 9.2).style('font-size', '26px')
      .attr('fill', caseColors[i]).text(name);
  });
}

// ---- OOA ----
const pOOA = makePanel('ooa', 1, 1, 40, ooaTicks, ooaMinor, false);
observations(pOOA, ooaPMF, true);
modelLine(pOOA, ooaCase1, GREEN);
modelLine(pOOA, ooaCase2, RED);
modelLine(pOOA, ooaCase3, ORANGE);
title(pOOA, 'OOA', 822, 453);

// ---- BBOA ----
const pBB = makePanel('bboa', 0, 2, 10, bboaTicks, bboaMinor, true);
observations(pBB, bboaPMF, true);
modelLine(pBB, bboaCase2, RED);
modelLine(pBB, bboaCase1, GREEN);
modelLine(pBB, bboaCase3, ORANGE);
title(pBB, 'BBOA', 137, 836.7);

// ---- SOA components ----
const pSOA = makePanel('soa', 1, 2, 80, soaTicks, soaMinor, true);
{
  const cols = [antSISOA, bbSISOA, antVSOA, biogVSOA];
  const table = soaTimes.map((t, i) => {
    const row = { t };
    soaKeys.forEach((k, j) => { row[k] = cols[j][i]; });
    return row;
  });
  const series = d3.stack().keys(soaKeys)(table);
  const area = d3.area().x(d => pSOA.x(d.data.t)).y0(d => pSOA.y(d[0])).y1(d => pSOA.y(d[1]))
    .curve(d3.curveMonotoneX);
  pSOA.plot.selectAll('path.layer').data(series).join('path').attr('class', 'layer')
    .attr('fill', (d, i) => soaColors[i]).attr('d', area);
  const legTop = [810, 844, 878, 912];
  soaKeys.forEach((k, i) => {
    pSOA.frame.append('rect').attr('x', 861).attr('y', legTop[i]).attr('width', 59).attr('height', 22)
      .attr('fill', soaColors[i]);
    pSOA.frame.append('text').attr('x', 929).attr('y', legTop[i] + 19).style('font-size', '26px')
      .attr('fill', soaColors[i]).text(k);
  });
}

// ---- axis titles ----
svg.append('text').attr('transform', 'translate(31,185) rotate(-90)').attr('text-anchor', 'middle')
  .style('font-size', '26.5px').text('CO (ppb)');
{
  const t = svg.append('text').attr('transform', 'translate(56.5,721) rotate(-90)').attr('text-anchor', 'middle')
    .style('font-size', '27px');
  t.append('tspan').text('Organic Mass/(CO-0.05) (\u00b5g m ');
  t.append('tspan').attr('dy', -12).style('font-size', '20px').text('-3');
  t.append('tspan').attr('dy', 12).text('  ppmv ');
  t.append('tspan').attr('dy', -12).style('font-size', '20px').text('-1');
  t.append('tspan').attr('dy', 12).text(' )');
}
svg.append('text').attr('x', 725).attr('y', 1170).attr('text-anchor', 'middle')
  .style('font-size', '26px').text('Time Hr (UTC)');
</script>
</body>
</html>
